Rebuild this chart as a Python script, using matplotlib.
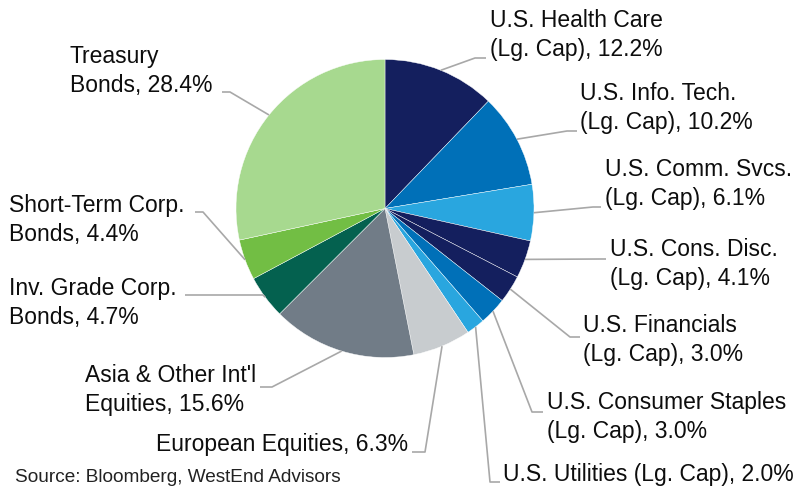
import matplotlib
matplotlib.use("Agg")
import matplotlib.pyplot as plt
import numpy as np

plt.rcParams["font.family"] = ["Liberation Sans", "DejaVu Sans"]

# Portfolio allocation, clockwise from 12 o'clock
categories = [
    "U.S. Health Care\n(Lg. Cap)",
    "U.S. Info. Tech.\n(Lg. Cap)",
    "U.S. Comm. Svcs.\n(Lg. Cap)",
    "U.S. Cons. Disc.\n(Lg. Cap)",
    "U.S. Financials\n(Lg. Cap)",
    "U.S. Consumer Staples\n(Lg. Cap)",
    "U.S. Utilities (Lg. Cap)",
    "European Equities",
    "Asia & Other Int'l\nEquities",
    "Inv. Grade Corp.\nBonds",
    "Short-Term Corp.\nBonds",
    "Treasury\nBonds",
]
weights = [12.2, 10.2, 6.1, 4.1, 3.0, 3.0, 2.0, 6.3, 15.6, 4.7, 4.4, 28.4]

NAVY, BLUE, SKY = "#141f5e", "#0070b8", "#29a6df"
colors = [NAVY, BLUE, SKY, NAVY, NAVY, BLUE, SKY,
          "#c8cccf", "#717c87", "#04614f", "#72be44", "#a7d98f"]

# Label layout in pixel space: (text x, text center y, align, elbow x, elbow y, end x)
layout = [
    (490, 35, "left", 475, 58, 486),
    (580, 108, "left", 567, 131, 577),
    (605, 184, "left", 593, 207, 601),
    (610, 264, "left", 600, 259, 606),
    (583, 340, "left", 570, 337, 580),
    (547, 417, "left", 532, 412, 543),
    (503, 475, "left", 490, 482, 500),
    (408, 445, "right", 425, 452, 412),
    (85, 390, "left", 272, 387, 260),
    (9, 303, "left", 263, 295, 185),
    (9, 220, "left", 203, 212, 195),
    (70, 71, "left", 230, 92, 222),
]

W, H = 802, 488
fig = plt.figure(figsize=(W / 100, H / 100), dpi=100)
ax = fig.add_axes([0, 0, 1, 1])

cx, cy, r = 385, 208.5, 149
wedges, _ = ax.pie(weights, colors=colors, startangle=-90, counterclock=True,
                   center=(cx, cy), radius=r, frame=True,
                   wedgeprops=dict(linewidth=0.3, edgecolor="#ffffff"))
ax.set_xlim(0, W)
ax.set_ylim(H, 0)
ax.set_aspect("equal")
ax.axis("off")

LINE = "#a8a8a8"
TEXT = "#0d0d0d"
for w, name, val, (tx, ty, ha, ex, ey, endx) in zip(wedges, categories, weights, layout):
    mid = np.deg2rad((w.theta1 + w.theta2) / 2)
    sx, sy = cx + r * np.cos(mid), cy + r * np.sin(mid)
    ax.plot([sx, ex, endx], [sy, ey, ey], color=LINE, lw=1.2,
            solid_capstyle="butt", zorder=1)
    ax.text(tx, ty, f"{name}, {val:.1f}%", ha=ha, va="center",
            multialignment="left", fontsize=16.5, color=TEXT, linespacing=1.32)

ax.text(15, 478, "Source: Bloomberg, WestEnd Advisors", ha="left", va="center",
        fontsize=13.7, color="#222222")

fig.savefig("out.png", dpi=100)
